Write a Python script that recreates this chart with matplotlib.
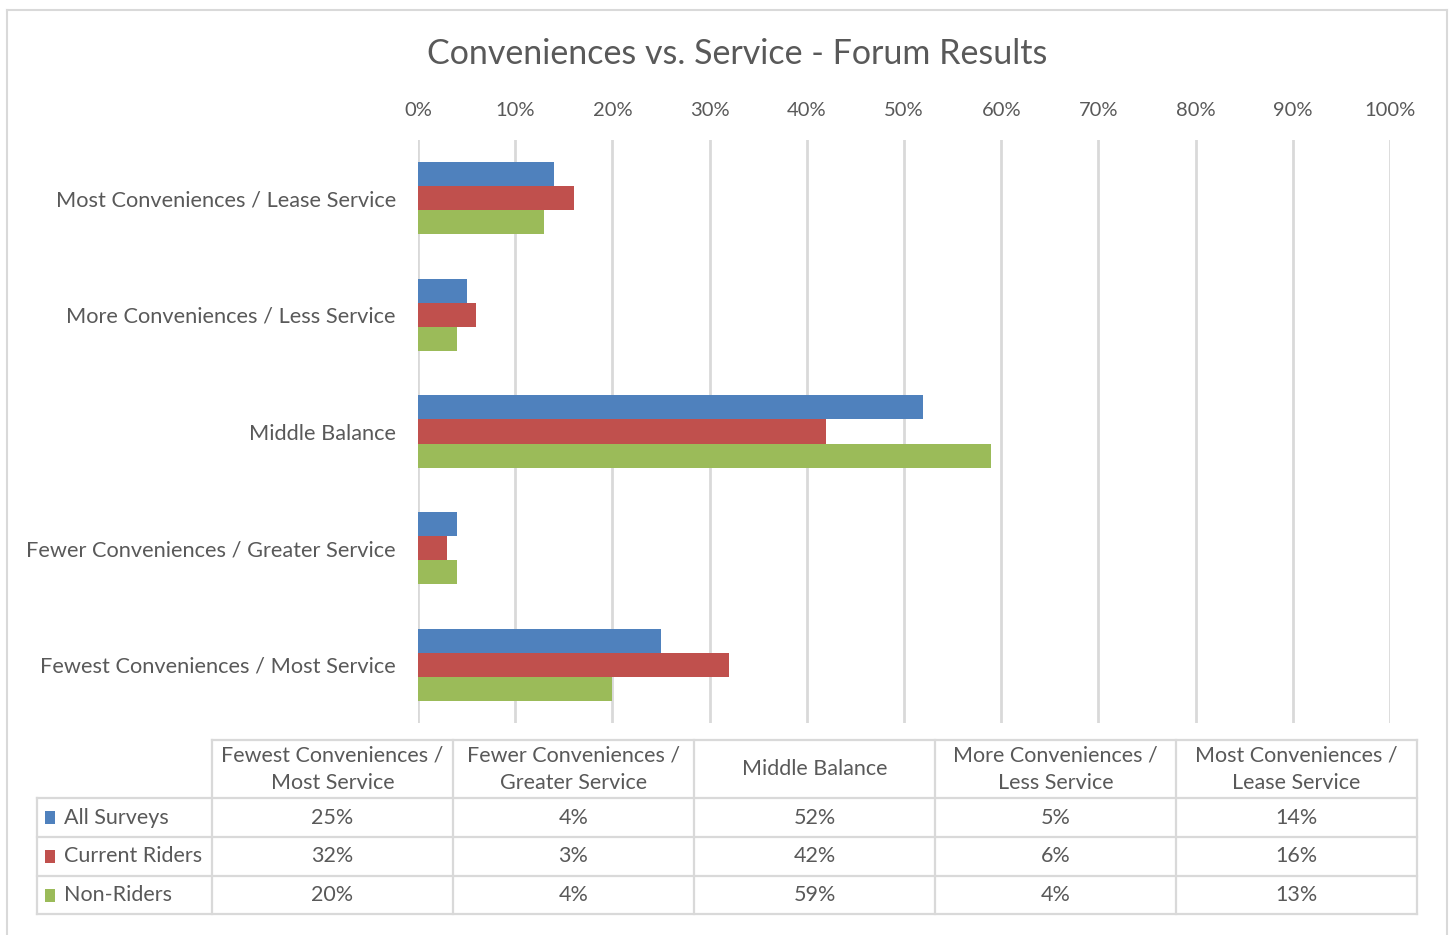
import matplotlib
matplotlib.use("Agg")
import matplotlib.pyplot as plt
import numpy as np

# ── data ──────────────────────────────────────────────────────────────────────

categories = [
    "Fewest Conveniences / Most Service",
    "Fewer Conveniences / Greater Service",
    "Middle Balance",
    "More Conveniences / Less Service",
    "Most Conveniences / Lease Service",
]
series_names = ["All Surveys", "Current Riders", "Non-Riders"]
all_surveys = [25, 4, 52, 5, 14]
current_riders = [32, 3, 42, 6, 16]
non_riders = [20, 4, 59, 4, 13]
x_ticks = [0, 10, 20, 30, 40, 50, 60, 70, 80, 90, 100]

TITLE = "Conveniences vs. Service - Forum Results"

# ── style ─────────────────────────────────────────────────────────────────────

COLORS = ["#4F81BD", "#C0504D", "#9BBB59"]
TEXT = "#595959"
GRID = "#D9D9D9"
FONT = "Lato"

W, H = 1450, 935
plt.rcParams["font.family"] = [FONT, "DejaVu Sans"]

fig = plt.figure(figsize=(W / 100, H / 100), dpi=100)
fig.patch.set_facecolor("white")

# overlay in pixel coordinates for frame + data table
ov = fig.add_axes([0, 0, 1, 1])
ov.set_xlim(0, W)
ov.set_ylim(H, 0)
ov.axis("off")


def px_axes(x0, y0, x1, y1):
    return [x0 / W, 1 - y1 / H, (x1 - x0) / W, (y1 - y0) / H]


# ── bar chart ─────────────────────────────────────────────────────────────────

ax = fig.add_axes(px_axes(418, 140, 1390, 723))
ax.set_zorder(2)
ax.patch.set_alpha(0)

series = [all_surveys, current_riders, non_riders]
y = np.arange(len(categories))
h = 0.206
offsets = [h, 0, -h]
for vals, off, c, name in zip(series, offsets, COLORS, series_names):
    ax.barh(y + off, vals, height=h, color=c, label=name, zorder=3)

ax.set_xlim(0, 100)
ax.set_ylim(-0.5, len(categories) - 0.5)
ax.set_yticks(y)
ax.set_yticklabels(categories, fontsize=15.7, color=TEXT)
ax.set_xticks(x_ticks)
ax.set_xticklabels([f"{t}%" for t in x_ticks], fontsize=14.5, color=TEXT)
ax.xaxis.tick_top()
ax.tick_params(axis="both", length=0)
ax.tick_params(axis="x", pad=15)
ax.tick_params(axis="y", pad=16)
for s in ax.spines.values():
    s.set_visible(False)
ax.grid(axis="x", color=GRID, linewidth=2, zorder=0)

ov.text(737, 54, TITLE, ha="center", va="center", fontsize=24.5, color=TEXT)

# ── outer frame ───────────────────────────────────────────────────────────────

ov.plot([7, 7], [H, 10], color=GRID, lw=1.5)
ov.plot([7, 1447], [10, 10], color=GRID, lw=1.5)
ov.plot([1447, 1447], [10, H], color=GRID, lw=1.5)

# ── data table ────────────────────────────────────────────────────────────────

col_x = [212, 453, 694, 935, 1176, 1417]
row_y = [740, 798, 837, 876, 914]
left_x = 37
lw = 1.6
fs = 15.5

ov.plot([col_x[0], col_x[-1]], [row_y[0], row_y[0]], color=GRID, lw=lw)
for yy in row_y[1:]:
    ov.plot([left_x, col_x[-1]], [yy, yy], color=GRID, lw=lw)
for xx in col_x:
    ov.plot([xx, xx], [row_y[0], row_y[-1]], color=GRID, lw=lw)
ov.plot([left_x, left_x], [row_y[1], row_y[-1]], color=GRID, lw=lw)

for j, cat in enumerate(categories):
    cx = (col_x[j] + col_x[j + 1]) / 2
    cy = (row_y[0] + row_y[1]) / 2
    ov.text(cx, cy, cat.replace(" / ", " /\n"), ha="center", va="center",
            fontsize=fs, color=TEXT, linespacing=1.45)

for i, (name, vals, c) in enumerate(zip(series_names, series, COLORS)):
    cy = (row_y[i + 1] + row_y[i + 2]) / 2
    ov.add_patch(plt.Rectangle((45, cy - 6.5), 10, 13, color=c, lw=0))
    ov.text(64, cy, name, ha="left", va="center", fontsize=fs, color=TEXT)
    for j, v in enumerate(vals):
        cx = (col_x[j] + col_x[j + 1]) / 2
        ov.text(cx, cy, f"{v}%", ha="center", va="center",
                fontsize=fs, color=TEXT)

fig.savefig("out.png", dpi=100, facecolor="white")
